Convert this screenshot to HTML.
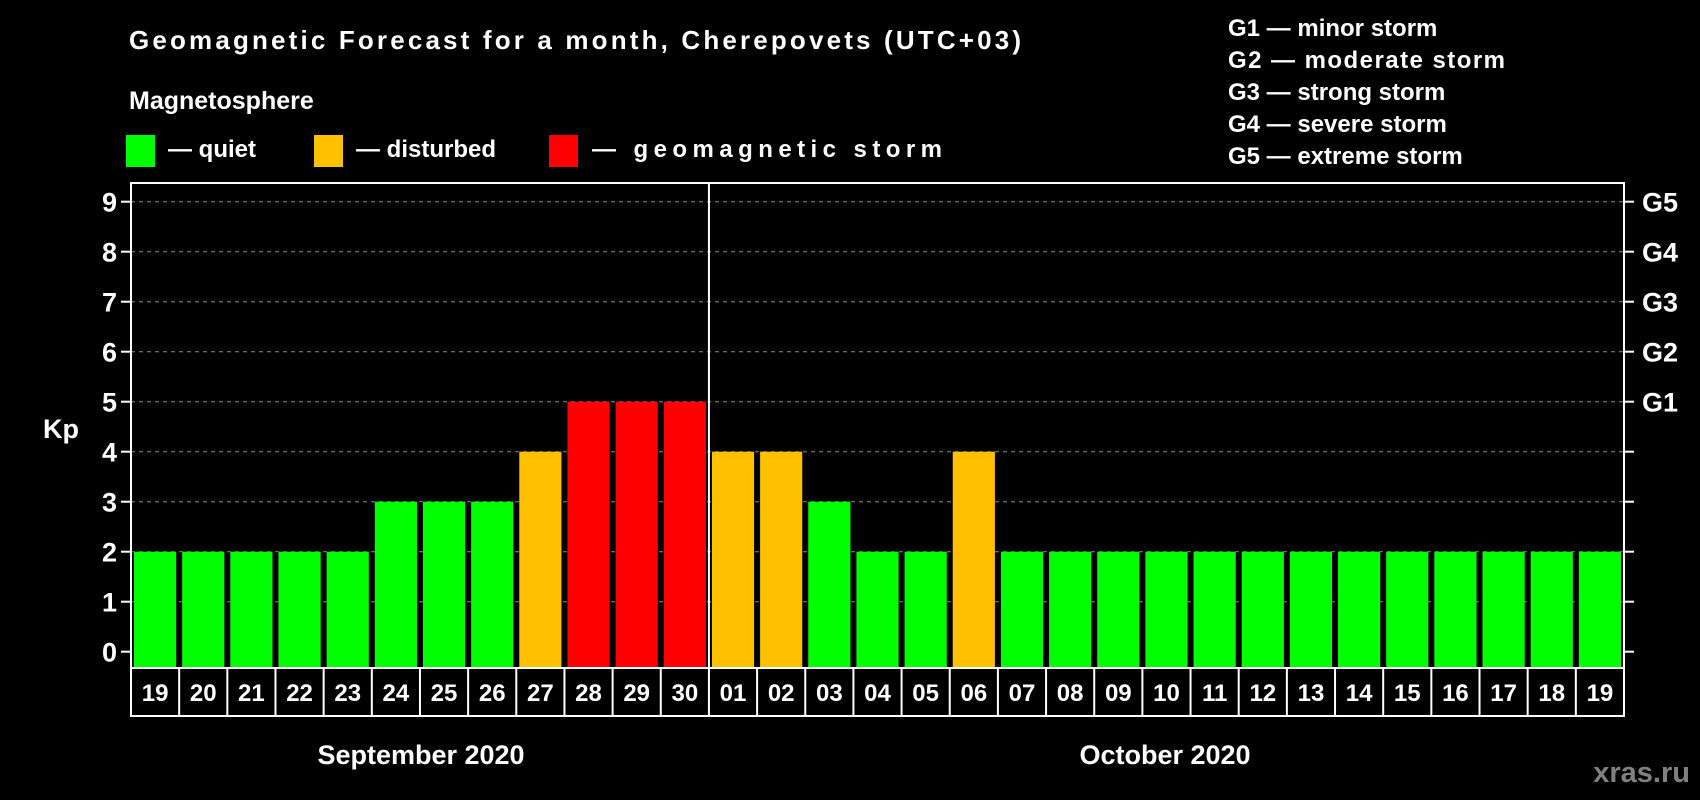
<!DOCTYPE html>
<html><head><meta charset="utf-8"><style>
html,body{margin:0;padding:0;background:#000}
svg{display:block;font-family:"Liberation Sans",Arial,sans-serif;font-weight:bold}
</style></head><body>
<svg id="chart" width="1700" height="800" viewBox="0 0 1700 800">
<rect width="1700" height="800" fill="#000"/>
<text x="129" y="49" fill="#fff" font-size="26" textLength="892">Geomagnetic Forecast for a month, Cherepovets (UTC+03)</text>
<text x="129" y="109" fill="#fff" font-size="25">Magnetosphere</text>
<rect x="126" y="135" width="29" height="32" fill="#00ff00"/>
<text x="168" y="157" fill="#fff" font-size="24">— quiet</text>
<rect x="314" y="135" width="29" height="32" fill="#ffc000"/>
<text x="356" y="157" fill="#fff" font-size="24">— disturbed</text>
<rect x="549" y="135" width="29" height="32" fill="#ff0000"/>
<text x="592" y="157" fill="#fff" font-size="24" textLength="350">— geomagnetic storm</text>
<g font-size="24" fill="#fff">
<text x="1228" y="36">G1 — minor storm</text>
<text x="1228" y="68" textLength="277">G2 — moderate storm</text>
<text x="1228" y="100">G3 — strong storm</text>
<text x="1228" y="132">G4 — severe storm</text>
<text x="1228" y="164">G5 — extreme storm</text>
</g>
<text x="43" y="438" fill="#fff" font-size="27">Kp</text>
<text x="421" y="764" fill="#fff" font-size="27" text-anchor="middle">September 2020</text>
<text x="1165" y="764" fill="#fff" font-size="27" text-anchor="middle">October 2020</text>
<text x="1690" y="782" fill="#808080" font-size="29" text-anchor="end">xras.ru</text>
<g id="plot"></g>
</svg>
<script>
const days = ["19","20","21","22","23","24","25","26","27","28","29","30","01","02","03","04","05","06","07","08","09","10","11","12","13","14","15","16","17","18","19"];
const kp = [2,2,2,2,2,3,3,3,4,5,5,5,4,4,3,2,2,4,2,2,2,2,2,2,2,2,2,2,2,2,2];
const yTicks = [0,1,2,3,4,5,6,7,8,9];
const gLabels = ["G1","G2","G3","G4","G5"];
const gLevels = [5,6,7,8,9];
const splitIndex = 12;

const NS="http://www.w3.org/2000/svg";
const g=document.getElementById('plot');
const L=131,R=1624,T=183,B=668,y0=651.7,unit=50;
const y=v=>y0-v*unit;
const bw=(R-L)/days.length;
const x=i=>L+i*bw;
function mk(t,a){const e=document.createElementNS(NS,t);for(const k in a)e.setAttribute(k,a[k]);g.appendChild(e);return e;}
function col(v){return v>=5?"#ff0000":(v>=4?"#ffc000":"#00ff00");}

yTicks.forEach(v=>{
  if(v>0){const l=mk('line',{x1:L,x2:R,y1:y(v),y2:y(v),stroke:'#888','stroke-dasharray':'4,4','stroke-width':1});
  
  }
  const t1=mk('line',{x1:L-10,x2:L,y1:y(v),y2:y(v),stroke:'#fff','stroke-width':2});
  
  
  const t2=mk('line',{x1:R,x2:R+10,y1:y(v),y2:y(v),stroke:'#fff','stroke-width':2});
  
  
  const tx=mk('text',{x:L-14,y:y(v)+10,fill:'#fff','font-size':27,'text-anchor':'end'});
  tx.textContent=v;
  
  
});
gLabels.forEach((s,i)=>{
  const t=mk('text',{x:R+18,y:y(gLevels[i])+10,fill:'#fff','font-size':27});
  t.textContent=s;
  
  
});
kp.forEach((v,i)=>{
  const r=mk('rect',{x:x(i)+3,y:y(v),width:bw-6,height:B-y(v),fill:col(v)});
  
  
});
const sep=mk('line',{x1:x(splitIndex),x2:x(splitIndex),y1:T,y2:B,stroke:'#fff','stroke-width':2});


const fr=mk('rect',{x:L,y:T,width:R-L,height:B-T,fill:'none',stroke:'#fff','stroke-width':2});


const dr=mk('rect',{x:L,y:B,width:R-L,height:48,fill:'none',stroke:'#fff','stroke-width':2});


days.forEach((d,i)=>{
  if(i>0){const l=mk('line',{x1:x(i),x2:x(i),y1:B,y2:B+48,stroke:'#fff','stroke-width':2});
  
  }
  const t=mk('text',{x:x(i)+bw/2,y:B+33,fill:'#fff','font-size':24,'text-anchor':'middle'});
  t.textContent=d;
  
  
});
</script>
</body></html>
